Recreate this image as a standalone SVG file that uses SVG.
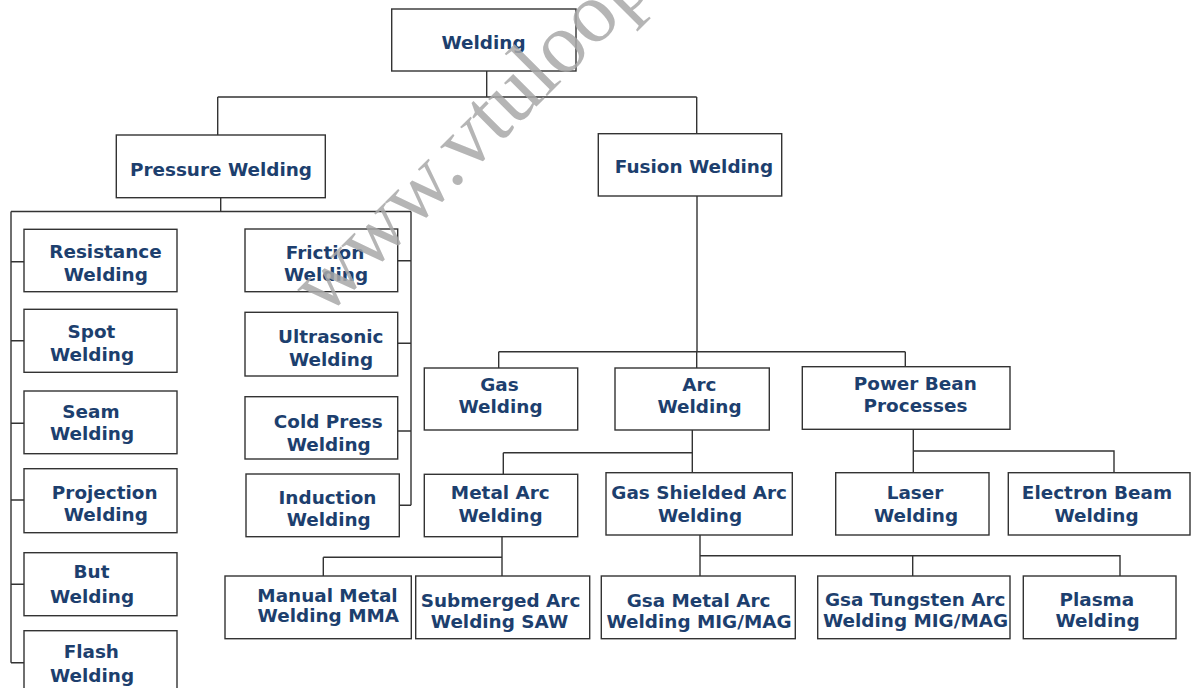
<svg xmlns="http://www.w3.org/2000/svg" width="1193" height="688" viewBox="0 0 1193 688">
<style>
.box{fill:#fff;stroke:#333;stroke-width:1.4}
.lbl{font-family:"DejaVu Sans","Liberation Sans",sans-serif;font-weight:bold;font-size:18.4px;fill:#1d3f6e;text-anchor:middle}
.con{fill:none;stroke:#333;stroke-width:1.4}
.wm{font-family:"Liberation Serif","DejaVu Serif",serif;font-size:86px;fill:#a8a8a8;fill-opacity:0.85}
</style>
<rect width="1193" height="688" fill="#fff"/>
<g id="connectors" class="con">
<path d="M486.7 71V97M217.7 97H696.7M217.7 97V135M696.7 97V133.7"/>
<path d="M220.7 197.7V211.5M11 211.5H411M11 211.5V662.7M11 261.7H24M11 340.7H24M11 423.3H24M11 500H24M11 584.3H24M11 662.7H24"/>
<path d="M411 211.5V505.3M397.7 260.7H411M397.7 343.3H411M397.7 431H411M399.3 505.3H411"/>
<path d="M697 196V351.7M498.7 351.7H905.3M498.7 351.7V368M696.7 351.7V368M905.3 351.7V366.7"/>
<path d="M692.3 430V472.7M503.3 452.7H692.3M503.3 452.7V474.3"/>
<path d="M913.3 429.3V472.7M913.3 451H1114V472.7"/>
<path d="M502 536.7V576M323.3 557.3H502M323.3 557.3V576"/>
<path d="M700 535V576M700 555.7H1120V576M912.7 555.7V576"/>
</g>
<g id="welding"><rect class="box" x="391.7" y="9" width="184.3" height="62"/><text class="lbl" x="483.5" y="49">Welding</text></g>
<g id="pressure"><rect class="box" x="116.3" y="135" width="209" height="62.7"/><text class="lbl" x="221" y="175.5">Pressure Welding</text></g>
<g id="fusion"><rect class="box" x="598.3" y="133.7" width="183.4" height="62.3"/><text class="lbl" x="694" y="173.3">Fusion Welding</text></g>
<g id="resistance"><rect class="box" x="24" y="229.3" width="153" height="62.4"/><text class="lbl" x="105.5" y="258.3">Resistance</text><text class="lbl" x="105.8" y="280.7">Welding</text></g>
<g id="spot"><rect class="box" x="24" y="309.3" width="153" height="63"/><text class="lbl" x="91.5" y="338.3">Spot</text><text class="lbl" x="92" y="361">Welding</text></g>
<g id="seam"><rect class="box" x="24" y="391" width="153" height="62.7"/><text class="lbl" x="91" y="418.3">Seam</text><text class="lbl" x="92" y="440">Welding</text></g>
<g id="projection"><rect class="box" x="24" y="468.7" width="153" height="64"/><text class="lbl" x="104.7" y="499.3">Projection</text><text class="lbl" x="105.8" y="521">Welding</text></g>
<g id="but"><rect class="box" x="24" y="552.7" width="153" height="63"/><text class="lbl" x="91.5" y="578.3">But</text><text class="lbl" x="92" y="603.3">Welding</text></g>
<g id="flash"><rect class="box" x="24" y="630.7" width="153" height="63"/><text class="lbl" x="91.3" y="658.3">Flash</text><text class="lbl" x="92" y="681.7">Welding</text></g>
<g id="friction"><rect class="box" x="245" y="229" width="152.7" height="62.7"/><text class="lbl" x="325" y="259">Friction</text><text class="lbl" x="326" y="281">Welding</text></g>
<g id="ultrasonic"><rect class="box" x="245" y="312.3" width="152.7" height="63.7"/><text class="lbl" x="330.8" y="343.3">Ultrasonic</text><text class="lbl" x="331" y="365.7">Welding</text></g>
<g id="coldpress"><rect class="box" x="245" y="396.7" width="152.7" height="62.3"/><text class="lbl" x="328.3" y="428.3">Cold Press</text><text class="lbl" x="328.7" y="450.5">Welding</text></g>
<g id="induction"><rect class="box" x="246" y="474" width="153.3" height="62.7"/><text class="lbl" x="327.5" y="504">Induction</text><text class="lbl" x="328.7" y="526">Welding</text></g>
<g id="gas"><rect class="box" x="424.3" y="368" width="153.4" height="62"/><text class="lbl" x="499.5" y="390.7">Gas</text><text class="lbl" x="500.5" y="412.7">Welding</text></g>
<g id="arc"><rect class="box" x="615" y="368" width="154.3" height="62"/><text class="lbl" x="699.3" y="390.7">Arc</text><text class="lbl" x="699.5" y="412.7">Welding</text></g>
<g id="powerbean"><rect class="box" x="802.3" y="366.7" width="207.7" height="62.6"/><text class="lbl" x="915.3" y="390">Power Bean</text><text class="lbl" x="915.5" y="411.7">Processes</text></g>
<g id="metalarc"><rect class="box" x="424.3" y="474.3" width="153.4" height="62.4"/><text class="lbl" x="500.3" y="499.3">Metal Arc</text><text class="lbl" x="500.5" y="521.7">Welding</text></g>
<g id="gasshielded"><rect class="box" x="606" y="472.7" width="186.3" height="62.3"/><text class="lbl" x="699.2" y="499.3">Gas Shielded Arc</text><text class="lbl" x="700" y="521.7">Welding</text></g>
<g id="laser"><rect class="box" x="835.7" y="472.7" width="153.3" height="62.3"/><text class="lbl" x="915" y="499">Laser</text><text class="lbl" x="916" y="521.7">Welding</text></g>
<g id="electron"><rect class="box" x="1008.3" y="472.7" width="181.7" height="62.3"/><text class="lbl" x="1097" y="499">Electron Beam</text><text class="lbl" x="1096.5" y="521.7">Welding</text></g>
<g id="manual"><rect class="box" x="225" y="576" width="186.3" height="62.7"/><text class="lbl" x="327.5" y="601.7">Manual Metal</text><text class="lbl" x="328.3" y="622.3">Welding MMA</text></g>
<g id="submerged"><rect class="box" x="415.7" y="576" width="174" height="62.7"/><text class="lbl" x="500.5" y="606.7">Submerged Arc</text><text class="lbl" x="499.5" y="627.7">Welding SAW</text></g>
<g id="gsametal"><rect class="box" x="601.3" y="576" width="194" height="62.7"/><text class="lbl" x="698.5" y="606.7">Gsa Metal Arc</text><text class="lbl" x="699" y="627.7">Welding MIG/MAG</text></g>
<g id="gsatungsten"><rect class="box" x="817.7" y="576" width="192.3" height="62.7"/><text class="lbl" x="915.2" y="606">Gsa Tungsten Arc</text><text class="lbl" x="915.5" y="627.3">Welding MIG/MAG</text></g>
<g id="plasma"><rect class="box" x="1023.3" y="576" width="152.7" height="62.7"/><text class="lbl" x="1096.8" y="606">Plasma</text><text class="lbl" x="1097.5" y="627.3">Welding</text></g>
<text class="wm" transform="translate(325 318) rotate(-45)">www.vtuloop</text>
</svg>
